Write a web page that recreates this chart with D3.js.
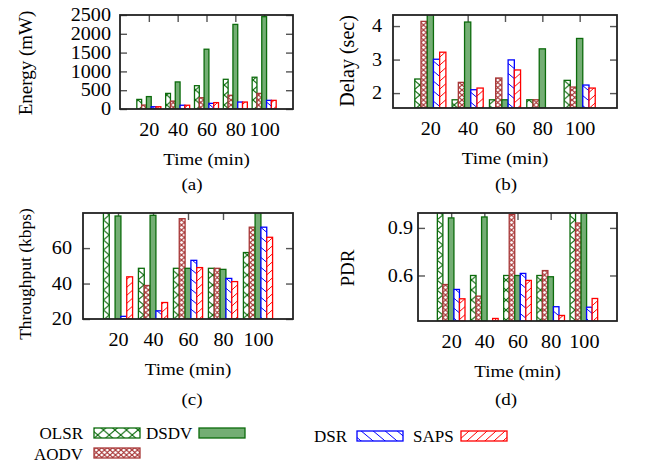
<!DOCTYPE html>
<html>
<head>
<meta charset="utf-8">
<title>Protocol comparison</title>
<script src="https://d3js.org/d3.v7.min.js"></script>
<style>
  body { margin: 0; background: #fff; }
  svg text { font-family: "Liberation Serif", "Times New Roman", serif; fill: #000; }
</style>
</head>
<body>
<script>

// categories and series
var times = ["20", "40", "60", "80", "100"];
var protocols = ["OLSR", "AODV", "DSDV", "DSR", "SAPS"];

// one row per protocol, in the order above
var energy = [
  [255, 415, 620, 790, 845],
  [105, 210, 300, 365, 415],
  [330, 720, 1590, 2250, 2455],
  [60, 100, 150, 185, 230],
  [60, 100, 170, 185, 230]
];
var delay = [
  [2.42, 1.80, 1.80, 1.80, 2.38],
  [4.14, 2.32, 2.45, 1.80, 2.18],
  [4.60, 4.12, 1.80, 3.32, 3.63],
  [3.01, 2.10, 2.99, 1.50, 2.24],
  [3.22, 2.15, 2.69, 1.50, 2.15]
];
var throughput = [
  [85, 48.6, 48.6, 48.6, 57.5],
  [18, 38.9, 76.6, 48.6, 71.8],
  [78.1, 78.5, 48.6, 48.0, 82],
  [21.5, 24.6, 53.1, 42.9, 71.8],
  [43.8, 29.3, 49.0, 41.1, 66.1]
];
var pdr = [
  [1.0, 0.60, 0.60, 0.60, 1.0],
  [0.543, 0.470, 0.984, 0.631, 0.931],
  [0.963, 0.969, 0.60, 0.592, 1.0],
  [0.512, 0.30, 0.613, 0.403, 0.40],
  [0.453, 0.329, 0.569, 0.348, 0.455]
];

// tick labels
var energyTicks = [0, 500, 1000, 1500, 2000, 2500];
var delayTicks = [2, 3, 4];
var throughputTicks = [20, 40, 60];
var pdrTicks = [0.6, 0.9];

var width = 655, height = 465;
var stretch = 1.12;   // the original figure is a bit wide
var green = "#0c6b0c", brown = "#a83838";

var svg = d3.select("body").append("svg")
    .attr("width", width)
    .attr("height", height);

var defs = svg.append("defs");

// fill patterns like gnuplot's
function hatch(id, w, h, color, paths, sw) {
  var p = defs.append("pattern")
      .attr("id", id)
      .attr("patternUnits", "userSpaceOnUse")
      .attr("width", w)
      .attr("height", h);
  p.append("rect").attr("width", w).attr("height", h).attr("fill", "#fff");
  paths.forEach(function(d) {
    p.append("path").attr("d", d).attr("stroke", color)
      .attr("stroke-width", sw).attr("fill", "none");
  });
}
hatch("pOLSR", 11.5, 10, green, ["M0,0L11.5,10", "M0,10L11.5,0"], 1.1);
hatch("pAODV", 5.5, 5, brown, ["M0,0L5.5,5", "M0,5L5.5,0"], 1.2);
hatch("pDSR", 12, 10, "#0000ff", ["M0,0L12,10", "M-12,0L0,10", "M12,0L24,10"], 1);
hatch("pSAPS", 9, 8, "#ff0000", ["M0,8L9,0", "M-9,8L0,0", "M9,8L18,0"], 1);

var styles = {
  OLSR: { fill: "url(#pOLSR)", stroke: green },
  AODV: { fill: "url(#pAODV)", stroke: brown },
  DSDV: { fill: "#74ae74", stroke: green },
  DSR:  { fill: "url(#pDSR)", stroke: "#0000ff" },
  SAPS: { fill: "url(#pSAPS)", stroke: "#ff0000" }
};

var panels = [
  { data: energy, ticks: energyTicks, domain: [0, 2500], fmt: d3.format("d"),
    ylabel: "Energy (mW)", ylx: 25, yly: 63, ylsize: 19,
    sub: "(a)", subx: 192, suby: 190, box: [120, 15, 293, 109], gap: 9 },
  { data: delay, ticks: delayTicks, domain: [1.555, 4.33], fmt: d3.format("d"),
    ylabel: "Delay (sec)", ylx: 347, yly: 61, ylsize: 20,
    sub: "(b)", subx: 506, suby: 190, box: [393, 15, 617, 108], gap: 11 },
  { data: throughput, ticks: throughputTicks, domain: [20, 79.8], fmt: d3.format("d"),
    ylabel: "Throughput (kbps)", ylx: 25, yly: 274, ylsize: 17.5,
    sub: "(c)", subx: 192, suby: 405, box: [83, 213, 293, 319], gap: 11 },
  { data: pdr, ticks: pdrTicks, domain: [0.313, 0.994], fmt: d3.format(".1f"),
    ylabel: "PDR", ylx: 347, yly: 268, ylsize: 19,
    sub: "(d)", subx: 506, suby: 405, box: [418, 213, 617, 321], gap: 5 }
];

panels.forEach(function(p, pi) {
  var x0 = p.box[0], y0 = p.box[1], x1 = p.box[2], y1 = p.box[3];
  var x = d3.scaleLinear().domain([-1, 5]).range([x0, x1]);
  var y = d3.scaleLinear().domain(p.domain).range([y1, y0]);
  var bw = x(1 / 6) - x(0);

  var g = svg.append("g");

  g.append("clipPath").attr("id", "clip" + pi)
    .append("rect")
    .attr("x", x0).attr("y", y0)
    .attr("width", x1 - x0).attr("height", y1 - y0);

  // ticks, all pointing inward, mirrored on the far sides
  function tickStyle(sel) {
    sel.select(".domain").remove();
    sel.selectAll(".tick line").attr("stroke", "#555").attr("stroke-width", 1.4);
  }
  g.append("g").attr("transform", "translate(" + x0 + ",0)")
    .call(d3.axisLeft(y).tickValues(p.ticks).tickFormat(p.fmt).tickSizeInner(-7).tickPadding(0))
    .call(tickStyle)
    .call(function(s) {
      s.selectAll("text")
        .attr("x", -p.gap / stretch)
        .attr("transform", "scale(" + stretch + ",1)")
        .style("font-size", "18px")
        .style("font-family", "Liberation Serif");
    });
  g.append("g").attr("transform", "translate(" + x1 + ",0)")
    .call(d3.axisRight(y).tickValues(p.ticks).tickFormat("").tickSizeInner(-7))
    .call(tickStyle);
  g.append("g").attr("transform", "translate(0," + y1 + ")")
    .call(d3.axisBottom(x).tickValues(d3.range(times.length))
      .tickFormat(function(i) { return times[i]; }).tickSizeInner(-7).tickPadding(0))
    .call(tickStyle)
    .call(function(s) {
      s.selectAll("text")
        .attr("y", 14.5).attr("dy", "0.71em")
        .attr("transform", "scale(" + stretch + ",1)")
        .style("font-size", "18px")
        .style("font-family", "Liberation Serif");
    });
  g.append("g").attr("transform", "translate(0," + y0 + ")")
    .call(d3.axisTop(x).tickValues(d3.range(times.length)).tickFormat("").tickSizeInner(-7))
    .call(tickStyle);

  // bars
  var bars = g.append("g").attr("clip-path", "url(#clip" + pi + ")");
  protocols.forEach(function(name, j) {
    bars.selectAll(".b" + j)
      .data(p.data[j])
      .enter().append("rect")
      .attr("x", function(d, i) { return x(i) + (j - 2.5) * bw; })
      .attr("width", bw)
      .attr("y", function(d) { return Math.min(y(d), y1); })
      .attr("height", function(d) { return Math.max(0, y1 - y(d)); })
      .attr("fill", styles[name].fill)
      .attr("stroke", styles[name].stroke)
      .attr("stroke-width", 1.3);
  });

  // frame
  g.append("rect")
    .attr("x", x0).attr("y", y0)
    .attr("width", x1 - x0).attr("height", y1 - y0)
    .attr("fill", "none").attr("stroke", "#222").attr("stroke-width", 1.8);

  // labels
  g.append("text")
    .attr("transform", "translate(" + p.ylx + "," + p.yly + ") rotate(-90)")
    .attr("dy", "0.35em")
    .style("text-anchor", "middle")
    .style("font-size", p.ylsize + "px")
    .text(p.ylabel);

  g.append("text")
    .attr("transform", "translate(" + ((x0 + x1) / 2) + "," + (y1 + 56) + ") scale(" + stretch + ",1)")
    .style("text-anchor", "middle")
    .style("font-size", "17px")
    .text("Time (min)");

  g.append("text")
    .attr("transform", "translate(" + p.subx + "," + p.suby + ") scale(" + stretch + ",1)")
    .style("text-anchor", "middle")
    .style("font-size", "17px")
    .text(p.sub);
});

// legend
var legendItems = [
  { name: "OLSR", tx: 83, anchor: "end", sx: 94, sy: 428, ty: 439 },
  { name: "DSDV", tx: 146, anchor: "start", sx: 199, sy: 428, ty: 439 },
  { name: "AODV", tx: 83, anchor: "end", sx: 94, sy: 448, ty: 460 },
  { name: "DSR", tx: 347, anchor: "end", sx: 357, sy: 431, ty: 442 },
  { name: "SAPS", tx: 413, anchor: "start", sx: 461, sy: 431, ty: 442 }
];
var legend = svg.append("g");
legendItems.forEach(function(d) {
  legend.append("rect")
    .attr("x", d.sx).attr("y", d.sy)
    .attr("width", 46).attr("height", 10)
    .attr("fill", styles[d.name].fill)
    .attr("stroke", styles[d.name].stroke)
    .attr("stroke-width", 1.3);
  legend.append("text")
    .attr("x", d.tx).attr("y", d.ty)
    .style("text-anchor", d.anchor)
    .style("font-size", "17px")
    .text(d.name);
});

</script>
</body>
</html>
